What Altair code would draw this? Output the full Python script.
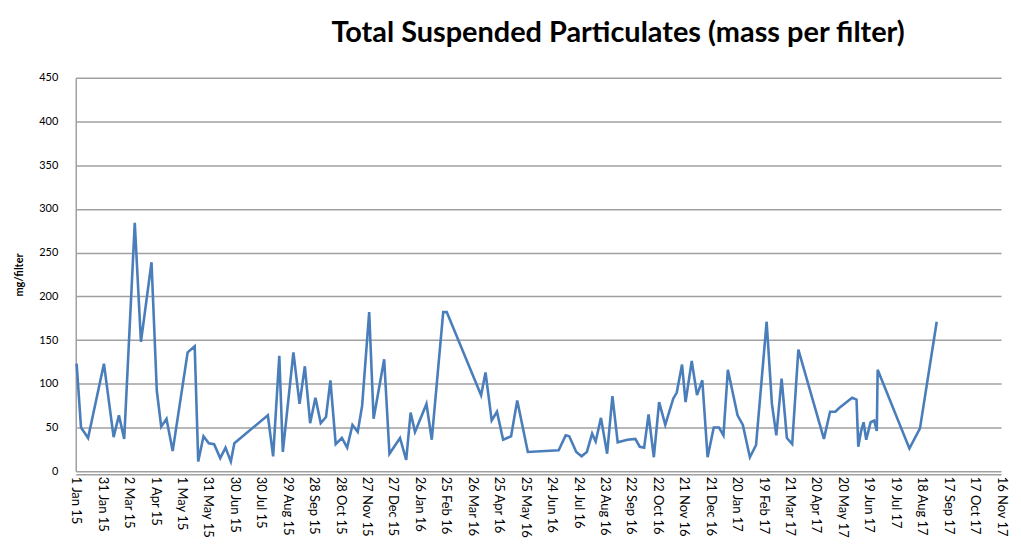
import altair as alt
import pandas as pd
from datetime import date, timedelta

# Sampling dates and measured mass per filter (mg/filter)
dates = [
    "2015-01-02", "2015-01-07", "2015-01-15", "2015-02-02", "2015-02-13", "2015-02-19",
    "2015-02-25", "2015-03-09", "2015-03-16", "2015-03-28", "2015-04-03", "2015-04-08",
    "2015-04-14", "2015-04-21", "2015-05-08", "2015-05-16", "2015-05-20", "2015-05-26",
    "2015-06-01", "2015-06-07", "2015-06-14", "2015-06-20", "2015-06-26", "2015-06-30",
    "2015-08-07", "2015-08-13", "2015-08-20", "2015-08-24", "2015-09-05", "2015-09-12",
    "2015-09-18", "2015-09-24", "2015-09-30", "2015-10-06", "2015-10-12", "2015-10-17",
    "2015-10-23", "2015-10-30", "2015-11-05", "2015-11-11", "2015-11-17", "2015-11-22",
    "2015-11-30", "2015-12-05", "2015-12-17", "2015-12-23", "2016-01-04", "2016-01-11",
    "2016-01-16", "2016-01-21", "2016-02-03", "2016-02-09", "2016-02-22", "2016-02-26",
    "2016-04-05", "2016-04-10", "2016-04-17", "2016-04-23", "2016-04-30", "2016-05-09",
    "2016-05-16", "2016-05-28", "2016-07-02", "2016-07-10", "2016-07-14", "2016-07-22",
    "2016-07-28", "2016-08-03", "2016-08-09", "2016-08-13", "2016-08-19", "2016-08-26",
    "2016-09-01", "2016-09-07", "2016-09-18", "2016-09-27", "2016-10-02", "2016-10-07",
    "2016-10-12", "2016-10-18", "2016-10-24", "2016-10-31", "2016-11-09", "2016-11-13",
    "2016-11-19", "2016-11-23", "2016-11-30", "2016-12-06", "2016-12-12", "2016-12-18",
    "2016-12-25", "2016-12-31", "2017-01-05", "2017-01-10", "2017-01-21", "2017-01-27",
    "2017-02-04", "2017-02-11", "2017-02-23", "2017-03-01", "2017-03-06", "2017-03-12",
    "2017-03-18", "2017-03-24", "2017-03-31", "2017-04-29", "2017-05-06", "2017-05-12",
    "2017-05-16", "2017-05-31", "2017-06-05", "2017-06-07", "2017-06-10", "2017-06-13",
    "2017-06-16", "2017-06-21", "2017-06-25", "2017-06-28", "2017-06-29", "2017-08-04",
    "2017-08-16", "2017-09-04",
]
values = [
    123, 50, 38, 123, 39, 64,
    37, 284, 148, 239, 92, 51,
    60, 23, 136, 143, 11, 40,
    32, 31, 15, 27, 11, 32,
    64, 17, 132, 22, 136, 77,
    120, 55, 84, 55, 62, 104,
    31, 38, 27, 53, 45, 75,
    182, 60, 128, 20, 38, 13,
    67, 45, 77, 36, 182, 182,
    87, 113, 58, 68, 36, 40,
    81, 22, 24, 41, 40, 22,
    17, 22, 43, 34, 61, 20,
    86, 33, 36, 37, 28, 27,
    65, 16, 79, 53, 83, 90,
    122, 79, 126, 87, 104, 16,
    50, 50, 41, 116, 64, 53,
    16, 30, 171, 77, 41, 106,
    38, 31, 139, 37, 68, 68,
    72, 84, 82, 28, 45, 56,
    36, 56, 58, 46, 116, 26,
    49, 171,
]

y_ticks = [0, 50, 100, 150, 200, 250, 300, 350, 400, 450]

df = pd.DataFrame({"date": dates, "value": values, "series": "Series1"})

epoch = date(1970, 1, 1)
start = date(2015, 1, 1)
tick_ms = [((start + timedelta(days=30 * i)) - epoch).days * 86400000 for i in range(36)]

FONT = "Lato"
GRID = "#a0a0a0"

chart = (
    alt.Chart(df)
    .mark_line(color="#4a7ebb", strokeWidth=2.6)
    .encode(
        x=alt.X(
            "date:T",
            scale=alt.Scale(type="utc", domain=[tick_ms[0], tick_ms[-1]], nice=False),
            axis=alt.Axis(
                values=tick_ms,
                labelExpr="utcFormat(datum.value, '%-d %b %y')",
                labelAngle=90,
                labelAlign="left",
                labelBaseline="middle",
                labelPadding=2,
                labelFontSize=13,
                labelColor="#000000",
                labelFont=FONT,
                labelOverlap=False,
                ticks=False,
                grid=False,
                domainColor=GRID,
                domainWidth=1.5,
                offset=3,
                title=None,
            ),
        ),
        y=alt.Y(
            "value:Q",
            scale=alt.Scale(domain=[0, 450], nice=False),
            axis=alt.Axis(
                values=y_ticks,
                title="mg/filter",
                titleFont=FONT,
                titleFontSize=11,
                titleFontWeight="bold",
                titleColor="#000000",
                titlePadding=14,
                labelFont=FONT,
                labelFontSize=11,
                labelColor="#000000",
                labelPadding=18,
                ticks=False,
                domainColor=GRID,
                domainWidth=1.5,
                gridColor=GRID,
                gridWidth=1.5,
            ),
        ),
    )
    .properties(
        width=929,
        height=395,
        padding={"left": 5, "top": 10, "right": 6, "bottom": 0},
        title=alt.TitleParams(
            "Total Suspended Particulates (mass per filter)",
            font=FONT,
            fontSize=29,
            fontWeight="bold",
            color="#000000",
            anchor="middle",
            dx=80,
            offset=24,
        ),
    )
    .configure_view(stroke=None)
)

chart.save("out.html", embed_options={"renderer": "svg", "actions": False})
